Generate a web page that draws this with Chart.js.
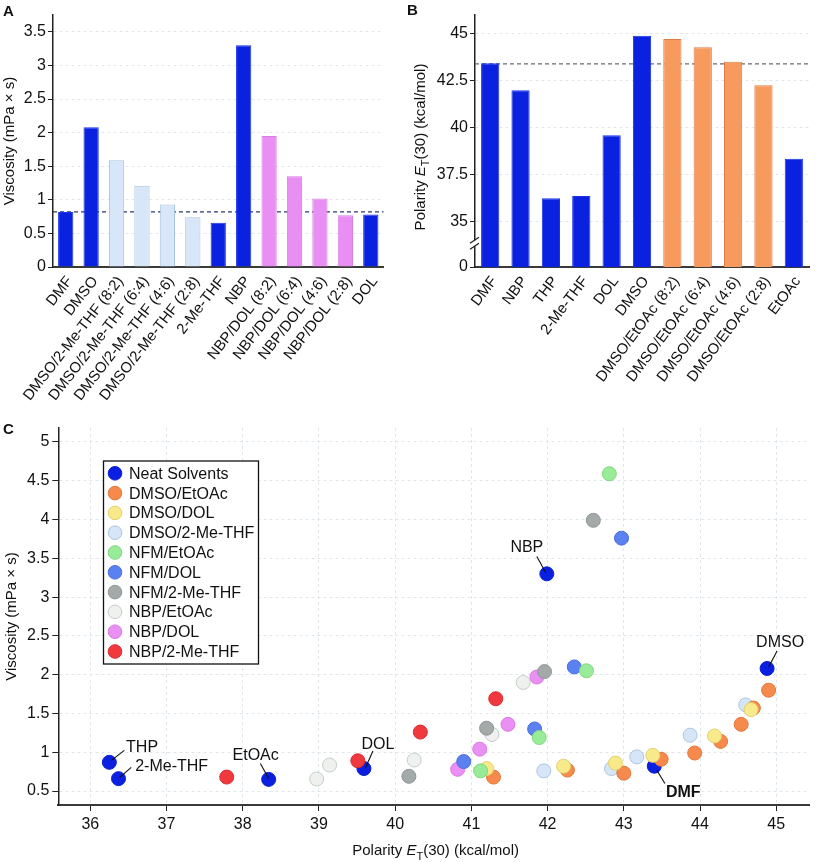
<!DOCTYPE html>
<html><head><meta charset="utf-8">
<script src="https://cdn.jsdelivr.net/npm/chart.js@4.4.1/dist/chart.umd.min.js"></script>
<style>
body{margin:0;background:#fff;width:817px;height:862px;position:relative;overflow:hidden;font-family:'Liberation Sans',Arial,sans-serif}
canvas{position:absolute}
.pl{position:absolute;font-weight:bold;font-size:15px;line-height:15px;color:#111;z-index:2;font-family:'Liberation Sans',Arial,sans-serif}
</style></head><body>
<canvas id="cA" width="400" height="420" style="left:0;top:0"></canvas>
<canvas id="cB" width="417" height="420" style="left:400px;top:0"></canvas>
<canvas id="cC" width="817" height="442" style="left:0;top:420px"></canvas>
<div class="pl" style="left:3px;top:3px">A</div>
<div class="pl" style="left:407px;top:2px">B</div>
<div class="pl" style="left:3px;top:421px">C</div>
<script>
// ---------- DATA ----------
// Panel A: viscosity (mPa x s)
const catsA = ['DMF','DMSO','DMSO/2-Me-THF (8:2)','DMSO/2-Me-THF (6:4)','DMSO/2-Me-THF (4:6)','DMSO/2-Me-THF (2:8)','2-Me-THF','NBP','NBP/DOL (8:2)','NBP/DOL (6:4)','NBP/DOL (4:6)','NBP/DOL (2:8)','DOL'];
const viscA = [0.82,2.08,1.59,1.21,0.93,0.74,0.66,3.30,1.95,1.35,1.02,0.77,0.78];
const groupA = ['neat','neat','dmso2me','dmso2me','dmso2me','dmso2me','neat','neat','nbpdol','nbpdol','nbpdol','nbpdol','neat'];
const ticksA = [0,0.5,1,1.5,2,2.5,3,3.5];
const refA = 0.82;

// Panel B: polarity ET(30) (kcal/mol)
const catsB = ['DMF','NBP','THP','2-Me-THF','DOL','DMSO','DMSO/EtOAc (8:2)','DMSO/EtOAc (6:4)','DMSO/EtOAc (4:6)','DMSO/EtOAc (2:8)','EtOAc'];
const polB = [43.43,42.0,36.26,36.38,39.6,44.9,44.72,44.28,43.51,42.26,38.35];
const groupB = ['neat','neat','neat','neat','neat','neat','dmsoetoac','dmsoetoac','dmsoetoac','dmsoetoac','neat'];
const ticksB = [32.6,35,37.5,40,42.5,45];
const tickLabelsB = ['0','35','37.5','40','42.5','45'];
const breakB = 33.86;
const refB = 43.4;

// Panel C: [polarity, viscosity]
const neat       = [[36.25,0.87],[36.37,0.66],[38.34,0.65],[39.59,0.79],[41.99,3.30],[43.40,0.82],[44.88,2.08]];
const neatNames  = ['THP','2-Me-THF','EtOAc','DOL','NBP','DMF','DMSO'];
const dmsoEtOAc  = [[41.29,0.68],[42.26,0.77],[43.00,0.73],[43.49,0.91],[43.93,0.99],[44.27,1.14],[44.54,1.36],[44.70,1.57],[44.90,1.80]];
const dmsoDOL    = [[41.20,0.79],[42.21,0.82],[42.89,0.86],[43.38,0.96],[44.19,1.21],[44.67,1.55]];
const dmso2MeTHF = [[41.95,0.76],[42.84,0.79],[43.17,0.94],[43.87,1.22],[44.60,1.61]];
const nfmEtOAc   = [[41.12,0.76],[41.89,1.19],[42.51,2.05],[42.81,4.59]];
const nfmDOL     = [[40.90,0.88],[41.83,1.30],[42.35,2.10],[42.97,3.76]];
const nfm2MeTHF  = [[40.18,0.69],[41.20,1.31],[41.96,2.04],[42.60,3.99]];
const nbpEtOAc   = [[38.97,0.655],[39.14,0.835],[40.25,0.90],[41.27,1.23],[41.68,1.90]];
const nbpDOL     = [[40.82,0.78],[41.11,1.04],[41.48,1.36],[41.86,1.97]];
const nbp2MeTHF  = [[37.79,0.68],[39.51,0.89],[40.33,1.26],[41.32,1.69]];
const seriesNames = ['Neat Solvents','DMSO/EtOAc','DMSO/DOL','DMSO/2-Me-THF','NFM/EtOAc','NFM/DOL','NFM/2-Me-THF','NBP/EtOAc','NBP/DOL','NBP/2-Me-THF'];
const seriesData  = [neat,dmsoEtOAc,dmsoDOL,dmso2MeTHF,nfmEtOAc,nfmDOL,nfm2MeTHF,nbpEtOAc,nbpDOL,nbp2MeTHF];
const ticksCx = [36,37,38,39,40,41,42,43,44,45];
const ticksCy = [0.5,1,1.5,2,2.5,3,3.5,4,4.5,5];

// ---------- STYLE ----------
const FONT = "'Liberation Sans', Arial, sans-serif";
Chart.defaults.font.family = FONT;
Chart.defaults.color = '#111';
const BARCOL = {
  neat:{fill:'#0a22e0',border:'#1a34e8'},
  dmso2me:{fill:'#d7e6f8',border:'#a6c4dc'},
  nbpdol:{fill:'#e98ef3',border:'#d77ee2'},
  dmsoetoac:{fill:'#f79a5e',border:'#e07c44'}
};
const SERSTYLE = [
  {fill:'#0a1fe0',border:'#0a1fd0',order:10},
  {fill:'#f58a4c',border:'#e0783c',order:8},
  {fill:'#f8e98a',border:'#e2d070',order:7},
  {fill:'#d6e6f8',border:'#a9c4dd',order:9},
  {fill:'#98ec98',border:'#7fd67f',order:3},
  {fill:'#5b80ef',border:'#4a6ee0',order:4},
  {fill:'#a3aaa9',border:'#8f9796',order:2},
  {fill:'#eff1ef',border:'#c5cdc8',order:6},
  {fill:'#ea8ff3',border:'#d77ae0',order:5},
  {fill:'#f0393e',border:'#d82a30',order:1}
];
const GRID = '#dfe6ec';
const ANNOT = {
  'THP':{a:'left',tx:16.7,ty:-10,l:[2,-2,15,-12]},
  '2-Me-THF':{a:'left',tx:16.7,ty:-8,l:[1,-1,12.7,-11.3]},
  'EtOAc':{a:'center',tx:-13,ty:-19.3,l:[-8.3,-16,0,-1]},
  'DOL':{a:'center',tx:14,ty:-20,l:[9,-17.6,1.7,-1]},
  'NBP':{a:'center',tx:-20,ty:-21.6,l:[-10,-17.3,-1,-1]},
  'DMSO':{a:'center',tx:13,ty:-21.7,l:[10,-17.4,1.7,-1.7]},
  'DMF':{a:'left',tx:11.6,ty:30.7,bold:true,l:[2.6,4,10.6,17.3]}
};

function drawRich(ctx, parts, cx, cy, rot, size){
  ctx.save(); ctx.translate(cx,cy); ctx.rotate(rot);
  ctx.textBaseline='alphabetic'; ctx.fillStyle='#111';
  const fontOf=p=>(p.italic?'italic ':'')+(p.sub?Math.round(size*0.7):size)+'px '+FONT;
  let w=0; parts.forEach(p=>{ctx.font=fontOf(p); w+=ctx.measureText(p.t).width;});
  let x=-w/2; const base=size*0.36;
  parts.forEach(p=>{ctx.font=fontOf(p); ctx.fillText(p.t,x,base+(p.sub?size*0.3:0)); x+=ctx.measureText(p.t).width;});
  ctx.restore();
}
const ET_TITLE = [{t:'Polarity '},{t:'E',italic:true},{t:'T',sub:true},{t:'(30) (kcal/mol)'}];

const refLine = {
  id:'refLine',
  beforeDatasetsDraw(chart, args, o){
    const {ctx, chartArea:a, scales:{y}} = chart;
    const py = y.getPixelForValue(o.value);
    ctx.save(); ctx.strokeStyle=o.color; ctx.lineWidth=1.3; ctx.setLineDash(o.dash);
    ctx.beginPath(); ctx.moveTo(a.left,py); ctx.lineTo(a.right,py); ctx.stroke(); ctx.restore();
  }
};

function barChart(id, cats, vals, groups, yopt, plugOpts, extraPlugins, rightPad, yWidth, rot){
  return new Chart(document.getElementById(id), {
    type:'bar',
    data:{labels:cats, datasets:[{data:vals,
      backgroundColor:groups.map(g=>BARCOL[g].fill), borderColor:groups.map(g=>BARCOL[g].border),
      borderWidth:1, borderSkipped:'bottom', categoryPercentage:1, barPercentage:0.6}]},
    options:{
      responsive:false, animation:false,
      layout:{padding:{left:0,right:rightPad,top:15,bottom:0}},
      plugins:Object.assign({legend:{display:false},tooltip:{enabled:false}}, plugOpts),
      scales:{
        x:{grid:{display:true,drawOnChartArea:false,drawTicks:false},
           border:{color:'#3a3a3a',width:2},
           ticks:{minRotation:rot,maxRotation:rot,autoSkip:false,padding:6,labelOffset:4,color:'#111',font:{size:15}},
           afterFit(s){s.height=420-267; s.paddingLeft=0; s.paddingRight=0;}},
        y:Object.assign({
           ticks:{padding:2,color:'#111',font:{size:16},callback:v=>String(v)},
           grid:{color:GRID,tickColor:'#222',tickLength:5,lineWidth:1},
           border:{color:'#222',width:1.5,dash:[3,3]},
           afterFit(s){s.width=yWidth; s.paddingTop=0; s.paddingBottom=0;}}, yopt)
      }
    },
    plugins:[refLine].concat(extraPlugins)
  });
}

// ---------- A ----------
barChart('cA', catsA, viscA, groupA, {
  min:0, max:3.75,
  afterBuildTicks(s){s.ticks=ticksA.map(v=>({value:v}));},
  title:{display:true,text:'Viscosity (mPa × s)',color:'#111',font:{size:15},padding:{top:1,bottom:0}}
}, {refLine:{value:refA,color:'#2c3870',dash:[4,3]}}, [], 16.5, 53, 52);

// ---------- B ----------
const bExtras = {
  id:'bExtras',
  afterDraw(chart){
    const {ctx, chartArea:a, scales:{y}} = chart;
    const py = y.getPixelForValue(breakB);
    ctx.save();
    ctx.fillStyle='#fff'; ctx.fillRect(a.left-2, py-3, 4, 6);
    ctx.strokeStyle='#222'; ctx.lineWidth=1.3;
    ctx.beginPath();
    ctx.moveTo(a.left-5, py); ctx.lineTo(a.left+4, py-6);
    ctx.moveTo(a.left-5, py+6); ctx.lineTo(a.left+4, py);
    ctx.stroke();
    ctx.restore();
    drawRich(ctx, ET_TITLE, 19.5, 147, -Math.PI/2, 15);
  }
};
barChart('cB', catsB, polB, groupB, {
  min:32.6, max:46,
  afterBuildTicks(s){s.ticks=ticksB.map(v=>({value:v}));},
  ticks:{padding:2,color:'#111',font:{size:16},callback:(v,i)=>tickLabelsB[i]}
}, {refLine:{value:refB,color:'#666c74',dash:[4,3]}}, [bExtras], 8, 75, 53);

// ---------- C ----------
const cExtras = {
  id:'cExtras',
  afterDatasetsDraw(chart){
    const {ctx, scales:{x,y}} = chart;
    ctx.save();
    neat.forEach((p,i)=>{
      const an = ANNOT[neatNames[i]]; if(!an) return;
      const px = x.getPixelForValue(p[0]), py = y.getPixelForValue(p[1]);
      ctx.strokeStyle='#111'; ctx.lineWidth=1.1;
      ctx.beginPath(); ctx.moveTo(px+an.l[0],py+an.l[1]); ctx.lineTo(px+an.l[2],py+an.l[3]); ctx.stroke();
      ctx.fillStyle='#111'; ctx.font=(an.bold?'bold ':'')+'16px '+FONT;
      ctx.textAlign=an.a; ctx.textBaseline='alphabetic';
      ctx.fillText(neatNames[i], px+an.tx, py+an.ty);
    });
    ctx.restore();
  },
  afterDraw(chart){
    const {ctx, chartArea:a} = chart;
    // legend
    const L = {x:103.5,y:41,w:155,h:203,row:19.8,first:53.3,cx:115,tx:129};
    ctx.save();
    ctx.fillStyle='#fff'; ctx.fillRect(L.x,L.y,L.w,L.h);
    ctx.strokeStyle='#111'; ctx.lineWidth=1.3; ctx.strokeRect(L.x,L.y,L.w,L.h);
    chart.data.datasets.forEach((ds,i)=>{
      const cy = L.first + i*L.row;
      ctx.beginPath(); ctx.arc(L.cx, cy, 6.8, 0, Math.PI*2);
      ctx.fillStyle=ds.backgroundColor; ctx.fill();
      ctx.strokeStyle=ds.borderColor; ctx.lineWidth=1; ctx.stroke();
      ctx.fillStyle='#111'; ctx.font='16px '+FONT; ctx.textAlign='left'; ctx.textBaseline='middle';
      ctx.fillText(ds.label, L.tx, cy+1);
    });
    ctx.restore();
    drawRich(ctx, ET_TITLE, (a.left+a.right)/2+2, 430, 0, 15);
  }
};
new Chart(document.getElementById('cC'), {
  type:'scatter',
  data:{datasets:seriesNames.map((n,i)=>({
    label:n, data:seriesData[i].map(([px,py])=>({x:px,y:py})),
    backgroundColor:SERSTYLE[i].fill, borderColor:SERSTYLE[i].border, borderWidth:1,
    pointRadius:7, order:SERSTYLE[i].order
  }))},
  options:{
    responsive:false, animation:false,
    layout:{padding:{left:0,right:2,top:8,bottom:0}},
    plugins:{legend:{display:false},tooltip:{enabled:false}},
    scales:{
      x:{type:'linear',min:35.58,max:45.43,
         afterBuildTicks(s){s.ticks=ticksCx.map(v=>({value:v}));},
         ticks:{padding:4,color:'#111',font:{size:16},callback:v=>String(v)},
         grid:{color:GRID,tickColor:'#222',tickLength:6},
         border:{color:'#3a3a3a',width:2,dash:[3,3]},
         afterFit(s){s.height=57; s.paddingLeft=0; s.paddingRight=0;}},
      y:{type:'linear',min:0.32,max:5.18,
         afterBuildTicks(s){s.ticks=ticksCy.map(v=>({value:v}));},
         ticks:{padding:3,color:'#111',font:{size:16},callback:v=>String(v)},
         grid:{color:GRID,tickColor:'#222',tickLength:6},
         border:{color:'#222',width:1.5,dash:[3,3]},
         title:{display:true,text:'Viscosity (mPa × s)',color:'#111',font:{size:15},padding:{top:3,bottom:0}},
         afterFit(s){s.width=58.3; s.paddingTop=0; s.paddingBottom=0;}}
    }
  },
  plugins:[cExtras]
});
</script>
</body></html>
